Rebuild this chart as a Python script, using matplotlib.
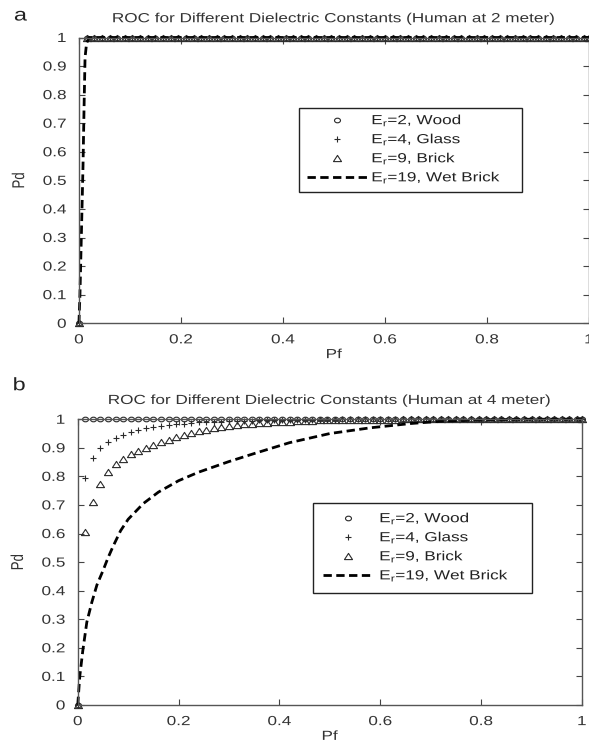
import matplotlib
matplotlib.use('Agg')
import matplotlib.pyplot as plt
from matplotlib.ticker import FormatStrFormatter
from matplotlib.patheffects import AbstractPathEffect
from matplotlib.transforms import Affine2D
from matplotlib.path import Path
from matplotlib.patches import Rectangle

plt.rcParams['font.family'] = ['Liberation Sans', 'DejaVu Sans']
plt.rcParams['mathtext.fontset'] = 'custom'
plt.rcParams['mathtext.rm'] = 'Liberation Sans'
plt.rcParams['mathtext.it'] = 'Liberation Sans:italic'

# Pf grid where the markers sit
pf = [0.0, 0.015, 0.03, 0.045, 0.06, 0.075, 0.09, 0.105, 0.12, 0.135,
      0.15, 0.165, 0.18, 0.195, 0.21, 0.225, 0.24, 0.255, 0.27, 0.285,
      0.30, 0.315, 0.33, 0.345, 0.36, 0.375, 0.39, 0.405, 0.42, 0.435,
      0.45, 0.465, 0.48, 0.495, 0.51, 0.525, 0.54, 0.555, 0.57, 0.585,
      0.60, 0.615, 0.63, 0.645, 0.66, 0.675, 0.69, 0.705, 0.72, 0.735,
      0.75, 0.765, 0.78, 0.795, 0.81, 0.825, 0.84, 0.855, 0.87, 0.885,
      0.90, 0.915, 0.93, 0.945, 0.96, 0.975, 0.99, 1.0]

# panel a (human at 2 m)
wood_a = [0.0] + [1.0] * 67
glass_a = [0.0] + [1.0] * 67
brick_a = [0.0] + [1.0] * 67
wet_pf_a = [0.0, 0.002, 0.004, 0.006, 0.008, 0.010, 0.012, 0.015, 0.02, 1.0]
wet_pd_a = [0.0, 0.10, 0.25, 0.40, 0.55, 0.75, 0.93, 0.98, 1.0, 1.0]

# panel b (human at 4 m)
wood_b = [0.0] + [1.0] * 67
glass_b = [0.0, 0.795, 0.865, 0.900, 0.920, 0.935, 0.946, 0.955, 0.962, 0.968,
           0.973, 0.977, 0.980, 0.983, 0.985, 0.987, 0.989, 0.990, 0.991, 0.992,
           0.993, 0.994, 0.995, 0.995, 0.996, 0.996, 0.997, 0.997, 0.998, 0.998,
           0.998, 0.999, 0.999, 0.999, 0.999] + [1.0] * 33
brick_b = [0.0, 0.605, 0.710, 0.775, 0.815, 0.842, 0.862, 0.877, 0.890, 0.900,
           0.910, 0.920, 0.928, 0.937, 0.945, 0.952, 0.958, 0.963, 0.968, 0.972,
           0.976, 0.979, 0.982, 0.984, 0.986, 0.988, 0.990, 0.991, 0.992, 0.993,
           0.994, 0.995, 0.996, 0.996, 0.997, 0.997, 0.998, 0.998, 0.998, 0.999,
           0.999, 0.999, 0.999] + [1.0] * 25
wet_pf_b = [0.0, 0.004, 0.01, 0.018, 0.028, 0.038, 0.05, 0.06, 0.07, 0.085,
            0.10, 0.13, 0.16, 0.20, 0.24, 0.30, 0.35, 0.42, 0.50, 0.58,
            0.66, 0.72, 0.80, 0.90, 1.0]
wet_pd_b = [0.0, 0.10, 0.19, 0.29, 0.36, 0.42, 0.47, 0.515, 0.555, 0.61,
            0.65, 0.705, 0.745, 0.785, 0.815, 0.852, 0.88, 0.918, 0.95, 0.97,
            0.985, 0.993, 0.998, 1.0, 1.0]

labels = [r'E$_{\mathrm{r}}$=2, Wood', r'E$_{\mathrm{r}}$=4, Glass',
          r'E$_{\mathrm{r}}$=9, Brick', r'E$_{\mathrm{r}}$=19, Wet Brick']

SX = 1.3          # the original figure is stretched sideways
mk_col = '#2a2a2a'
txt_col = '#333333'
fs = 9.5


class Stretch(AbstractPathEffect):
    """draw text widened along one axis of its own path"""
    def __init__(self, anchor='center', axis=0, s=SX):
        super().__init__()
        self.anchor = anchor
        self.axis = axis
        self.s = s

    def draw_path(self, renderer, gc, tpath, affine, rgbFace=None):
        ext = tpath.get_extents()
        lo, hi = (ext.x0, ext.x1) if self.axis == 0 else (ext.y0, ext.y1)
        c = {'left': lo, 'center': (lo + hi) / 2, 'right': hi}[self.anchor]
        if self.axis == 0:
            pre = Affine2D().translate(-c, 0).scale(self.s, 1).translate(c, 0)
        else:
            pre = Affine2D().translate(0, -c).scale(1, self.s).translate(0, c)
        renderer.draw_path(gc, tpath, pre + affine, rgbFace)


# widened marker shapes
m_circle = Path.unit_circle().transformed(Affine2D().scale(SX, 1))
m_tri = Path([(0, 1), (-SX, -1), (SX, -1), (0, 1)],
             [Path.MOVETO, Path.LINETO, Path.LINETO, Path.CLOSEPOLY])
m_plus = Path([(-SX, 0), (SX, 0), (0, -1), (0, 1)],
              [Path.MOVETO, Path.LINETO, Path.MOVETO, Path.LINETO])


def draw_panel(ax, wood, glass, brick, wet_pf, wet_pd, title, frame, leg_pos, hlen, hpad):
    ax.plot(pf, wood, linestyle='none', marker=m_circle, ms=4.3, mfc='none',
            mec=mk_col, mew=0.8, clip_on=False, label=labels[0])
    ax.plot(pf, glass, linestyle='none', marker=m_plus, ms=5, mfc='none',
            mec=mk_col, mew=0.8, clip_on=False, label=labels[1])
    ax.plot(pf, brick, linestyle='none', marker=m_tri, ms=5.8, mfc='none',
            mec=mk_col, mew=0.8, clip_on=False, label=labels[2])
    ax.plot(wet_pf, wet_pd, color='black', lw=2, dashes=[3, 1.6],
            clip_on=False, label=labels[3])
    ax.set_xlim(0, 1)
    ax.set_ylim(0, 1)
    ax.set_xticks([0, 0.2, 0.4, 0.6, 0.8, 1])
    ax.set_yticks([0, 0.1, 0.2, 0.3, 0.4, 0.5, 0.6, 0.7, 0.8, 0.9, 1])
    ax.xaxis.set_major_formatter(FormatStrFormatter('%g'))
    ax.yaxis.set_major_formatter(FormatStrFormatter('%g'))
    ax.tick_params(direction='in', length=4, width=0.8, top=True, right=True,
                   labelsize=fs, labelcolor=txt_col, color='#444444')
    ax.tick_params(axis='x', pad=8)
    ax.tick_params(axis='y', pad=9)
    for s in ax.spines.values():
        s.set_color('#555555')
        s.set_linewidth(1.0)
    ax.set_xlabel('Pf', fontsize=fs, color=txt_col, labelpad=2,
                  path_effects=[Stretch('center')])
    ax.set_ylabel('Pd', fontsize=fs, color=txt_col, labelpad=16,
                  path_effects=[Stretch('center', axis=1)])
    ax.set_title(title, fontsize=fs, color=txt_col, pad=11,
                 path_effects=[Stretch('center')])
    for t in ax.get_xticklabels():
        t.set_path_effects([Stretch('center')])
    for t in ax.get_yticklabels():
        t.set_path_effects([Stretch('right')])
    ax.add_patch(Rectangle((frame[0], frame[1]), frame[2], frame[3],
                           transform=ax.transAxes, fill=True, facecolor='white',
                           edgecolor='#222222', lw=1.0, zorder=4))
    leg = ax.legend(loc='upper left', bbox_to_anchor=leg_pos, fontsize=fs,
                    frameon=False, handlelength=hlen, handletextpad=hpad,
                    labelspacing=0.3, borderpad=0, borderaxespad=0)
    leg.set_zorder(5)
    for t in leg.get_texts():
        t.set_color('#222222')
        t.set_path_effects([Stretch('left')])


fig = plt.figure(figsize=(5.89, 7.5), dpi=100)
ax1 = fig.add_axes([0.134, 0.569, 0.866, 0.381])
ax2 = fig.add_axes([0.132, 0.060, 0.856, 0.381])

draw_panel(ax1, wood_a, glass_a, brick_a, wet_pf_a, wet_pd_a,
           'ROC for Different Dielectric Constants (Human at 2 meter)',
           (0.431, 0.458, 0.438, 0.297), (0.447, 0.735), 4.6, 0.3)
draw_panel(ax2, wood_b, glass_b, brick_b, wet_pf_b, wet_pd_b,
           'ROC for Different Dielectric Constants (Human at 4 meter)',
           (0.466, 0.392, 0.435, 0.314), (0.486, 0.678), 3.8, 0.5)

fig.text(0.024, 0.990, 'a', fontsize=13, color='#222222', va='top',
         path_effects=[Stretch('left')])
fig.text(0.022, 0.497, 'b', fontsize=13, color='#222222', va='top',
         path_effects=[Stretch('left')])

fig.savefig('out.png', dpi=100)
